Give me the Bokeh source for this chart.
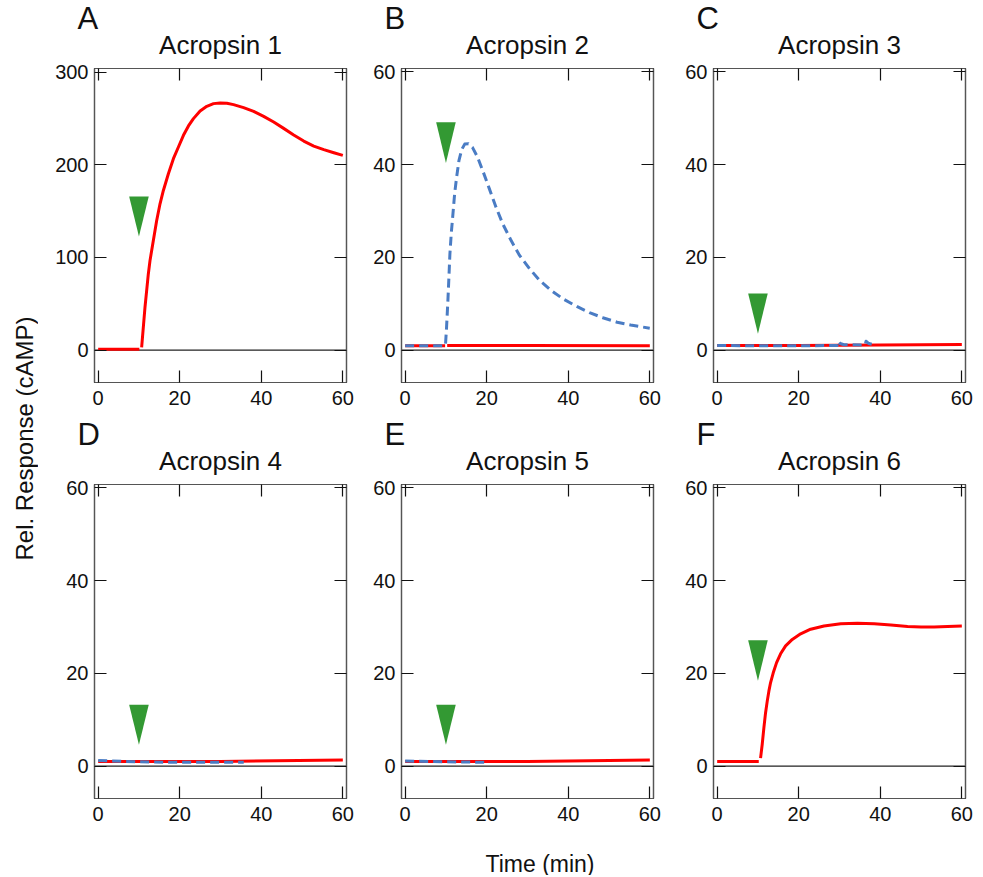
import math
from bokeh.plotting import figure
from bokeh.layouts import row, column
from bokeh.models import LinearAxis, FixedTicker, Span, Label, Title, Range1d
from bokeh.embed import file_html
from bokeh.resources import INLINE

FONT = "Liberation Sans"
RED = "#ff0000"
BLUE = "#4a7cc4"
GREEN = "#339933"
NAN = float("nan")

# ---------------- data ----------------
panel_letters = ["A", "B", "C", "D", "E", "F"]
panel_titles = ["Acropsin 1", "Acropsin 2", "Acropsin 3", "Acropsin 4", "Acropsin 5", "Acropsin 6"]
x_ticks = [0, 20, 40, 60]
y_ticks_large = [0, 100, 200, 300]
y_ticks_small = [0, 20, 40, 60]
x_limits = (-0.9, 60.9)
y_limits_large = (-35, 303.8)
y_limits_small = (-7, 60.7)

stim_time = 10
arrow_tip = [122.5, 40.3, 3.5, 4.6, 4.6, 18.4]
arrow_top = [165.8, 49.1, 12.2, 13.2, 13.2, 27.1]
arrow_halfwidth = 2.4

a_red_t = [0, 10.1, NAN, 10.66, 11.07, 11.48, 11.89, 12.30, 12.71, 13.53, 14.35, 15.17, 15.99,
           17.22, 18.45, 19.68, 20.91, 22.14, 23.36, 25.0, 26.64, 28.28, 29.92, 31.56, 33.20,
           35.66, 38.12, 40.58, 43.04, 45.49, 47.95, 50.41, 52.87, 55.33, 57.79, 60.0]
a_red_v = [1, 1, NAN, 2.8, 24.5, 46.1, 64.1, 82.1, 96.5, 118.2, 139.8, 157.8, 172.2,
           190.2, 206.5, 219.1, 231.7, 241.8, 249.7, 258.0, 263.0, 265.9, 266.6, 266.3, 264.8,
           261.6, 257.6, 252.2, 246.1, 239.2, 232.0, 225.5, 220.1, 216.2, 212.9, 210.1]

b_red_t = [0, 9.8, NAN, 10.3, 30, 60]
b_red_v = [0.9, 0.9, NAN, 1.0, 1.0, 0.9]
b_blue_t = [0, 9.7, 9.9, 10.15, 10.48, 10.73, 10.97, 11.30, 11.72, 12.13, 12.62, 13.20, 13.86,
            14.60, 15.51, 16.50, 17.74, 19.14, 20.63, 22.28, 23.93, 25.99, 28.05, 30.53, 33.0,
            35.89, 38.78, 42.08, 45.38, 48.68, 51.98, 55.28, 59.98]
b_blue_v = [0.9, 0.9, 1.3, 4.9, 10.7, 15.7, 20.7, 25.1, 29.4, 33.7, 37.3, 40.9, 43.2,
            44.4, 44.5, 43.7, 41.6, 38.4, 34.8, 30.8, 27.2, 23.6, 20.4, 17.5, 15.0,
            12.8, 11.0, 9.4, 8.0, 6.9, 6.0, 5.4, 4.7]

c_red_t = [0, 20, 40, 60]
c_red_v = [1.0, 1.0, 1.1, 1.2]
c_blue_t = [0, 10, 20, 29.4, 29.6, 30.2, 31.1, 36.3, 36.5, 37.2, 38.3]
c_blue_v = [1.0, 0.9, 0.9, 1.0, 1.9, 1.4, 1.15, 1.1, 1.9, 1.4, 1.15]

d_red_t = [0, 30, 60]
d_red_v = [1.0, 1.0, 1.3]
d_blue_t = [0, 10, 20, 35.7]
d_blue_v = [1.2, 0.9, 0.8, 0.8]

e_red_t = [0, 30, 60]
e_red_v = [1.0, 1.0, 1.3]
e_blue_t = [0, 10, 20.6]
e_blue_v = [1.1, 0.9, 0.8]

f_red_t = [0, 10.2, NAN, 10.64, 11.05, 11.46, 11.87, 12.28, 12.69, 13.10, 13.75, 14.57, 15.55,
           16.78, 18.42, 20.47, 22.92, 26.2, 30.3, 34.4, 38.5, 42.6, 46.7, 50.0, 53.2, 56.5, 60.0]
f_red_v = [1.0, 1.0, NAN, 1.7, 4.7, 8.3, 11.5, 14.0, 16.2, 18.0, 20.1, 22.3, 24.2,
           25.9, 27.3, 28.5, 29.5, 30.2, 30.7, 30.8, 30.7, 30.4, 30.1, 30.0, 30.0, 30.1, 30.2]

red_series = [(a_red_t, a_red_v), (b_red_t, b_red_v), (c_red_t, c_red_v),
              (d_red_t, d_red_v), (e_red_t, e_red_v), (f_red_t, f_red_v)]
blue_series = [None, (b_blue_t, b_blue_v), (c_blue_t, c_blue_v),
               (d_blue_t, d_blue_v), (e_blue_t, e_blue_v), None]

# ---------------- layout parameters ----------------
FRAME_W, FRAME_H = 252, 314
left_borders = [56, 41, 46, 56, 41, 46]
top_borders = [68, 68, 68, 68, 68, 68]
bottom_borders = [34, 34, 34, 42, 42, 42]
RIGHT_BORDER = 14


def style_axis(ax, ticks, show_labels):
    ax.major_tick_in = 12
    ax.major_tick_out = 0
    ax.minor_tick_line_color = None
    ax.axis_line_color = "#555555"
    ax.axis_line_width = 1.2
    ax.major_tick_line_color = "#111111"
    ax.major_tick_line_width = 1.2
    ax.major_label_text_font = FONT
    if show_labels:
        ax.major_label_text_font_size = "20px"
        ax.major_label_text_color = "#111111"
    else:
        ax.major_label_overrides = {t: "" for t in ticks}
        ax.major_label_text_font_size = "0px"
        ax.major_label_standoff = 0


def make_panel(i):
    ylim = y_limits_large if i == 0 else y_limits_small
    yt = y_ticks_large if i == 0 else y_ticks_small
    p = figure(frame_width=FRAME_W, frame_height=FRAME_H,
               x_range=Range1d(*x_limits), y_range=Range1d(*ylim),
               min_border_left=left_borders[i], min_border_right=RIGHT_BORDER,
               min_border_top=top_borders[i], min_border_bottom=bottom_borders[i],
               toolbar_location=None, output_backend="svg", title=None,
               x_axis_location=None, y_axis_location=None)
    p.grid.visible = False
    p.outline_line_color = "#111111"
    p.outline_line_width = 1.2
    p.background_fill_color = "white"
    p.border_fill_color = "white"

    left = LinearAxis(ticker=FixedTicker(ticks=yt))
    style_axis(left, yt, True)
    left.major_label_standoff = 6
    p.add_layout(left, "left")
    right = LinearAxis(ticker=FixedTicker(ticks=yt))
    style_axis(right, yt, False)
    p.add_layout(right, "right")
    below = LinearAxis(ticker=FixedTicker(ticks=x_ticks))
    style_axis(below, x_ticks, True)
    below.major_label_standoff = 8
    p.add_layout(below, "below")
    above = LinearAxis(ticker=FixedTicker(ticks=x_ticks))
    style_axis(above, x_ticks, False)
    above.axis_label = panel_titles[i]
    above.axis_label_text_font = FONT
    above.axis_label_text_font_size = "26px"
    above.axis_label_text_font_style = "normal"
    above.axis_label_text_color = "#111111"
    above.axis_label_standoff = 9
    p.add_layout(above, "above")

    letter = Title(text=panel_letters[i], align="left", offset=-17, text_font=FONT,
                   text_font_size="31px", text_font_style="normal",
                   text_color="#111111", standoff=-19)
    p.add_layout(letter, "above")

    p.add_layout(Span(location=0, dimension="width", line_color="#222222",
                      line_width=1.2, level="underlay"))

    rt, rv = red_series[i]
    p.line(rt, rv, line_color=RED, line_width=3, line_join="round")
    if blue_series[i] is not None:
        bt, bv = blue_series[i]
        p.line(bt, bv, line_color=BLUE, line_width=3, line_dash="9 5", line_join="round")

    p.patch([stim_time - arrow_halfwidth, stim_time + arrow_halfwidth, stim_time],
            [arrow_top[i], arrow_top[i], arrow_tip[i]],
            fill_color=GREEN, line_color=None)
    return p


panels = [make_panel(i) for i in range(6)]

total_h = 875
rows_h = (top_borders[0] + FRAME_H + bottom_borders[0]) + (top_borders[3] + FRAME_H + bottom_borders[3])
strip_h = total_h - rows_h
row_w = sum(left_borders[0:3]) + 3 * (FRAME_W + RIGHT_BORDER)

# y label strip
ystrip = figure(width=38, height=total_h, x_range=Range1d(0, 38), y_range=Range1d(0, total_h),
                toolbar_location=None, output_backend="svg", min_border=0,
                x_axis_location=None, y_axis_location=None, title=None)
ystrip.outline_line_color = None
ystrip.grid.visible = False
ystrip.add_layout(Label(x=24, y=total_h - 438, text="Rel. Response (cAMP)", angle=math.pi / 2,
                        text_align="center", text_baseline="middle", text_font=FONT,
                        text_font_size="24px", text_color="#111111"))

# x label strip
xstrip = figure(width=row_w, height=strip_h, x_range=Range1d(0, row_w), y_range=Range1d(0, strip_h),
                toolbar_location=None, output_backend="svg", min_border=0,
                x_axis_location=None, y_axis_location=None, title=None)
xstrip.outline_line_color = None
xstrip.grid.visible = False
xstrip.add_layout(Label(x=539.5 - 38, y=strip_h - 23, text="Time (min)", text_align="center",
                        text_baseline="middle", text_font=FONT, text_font_size="23px",
                        text_color="#111111"))

layout = row(ystrip, column(row(panels[0], panels[1], panels[2]),
                            row(panels[3], panels[4], panels[5]),
                            xstrip))

open("out.html", "w").write(file_html(layout, INLINE))
